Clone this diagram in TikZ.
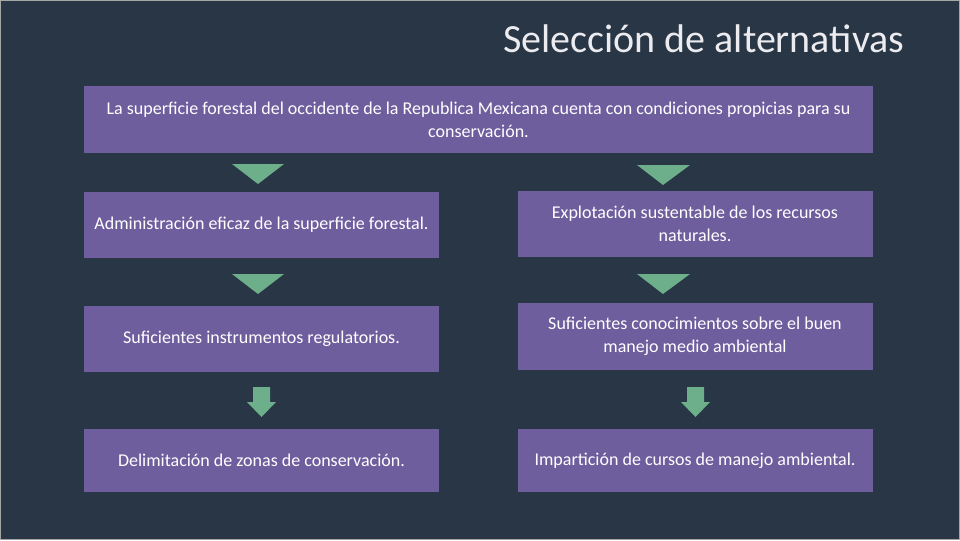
\documentclass[tikz,border=0pt]{standalone}
\usepackage{fontspec}
\setmainfont{Carlito}
\usetikzlibrary{positioning}

\definecolor{fondo}{HTML}{283645}
\definecolor{morado}{HTML}{6E5E9E}
\definecolor{verde}{HTML}{6DAF8A}
\definecolor{titulo}{HTML}{ECECF0}

\begin{document}
\begin{tikzpicture}[x=0.75pt,y=-0.75pt]
\tikzstyle{caja} = [rectangle, fill=morado, text=white, align=center, inner sep=2pt, font=\fontsize{13.5}{17}\selectfont]
\tikzstyle{cajachica} = [caja, minimum width=266.25pt, minimum height=50pt]
\tikzstyle{tri} = [fill=verde]

\fill[fondo] (0,0) rectangle (960,540);
\draw[gray!70, line width=0.75pt] (0.5,0.5) rectangle (959.5,539.5);

\node (titulo) [anchor=base east, text=titulo, font=\fontsize{30}{36}\selectfont] at (909,52) {Selección de alternativas};

\node (sup) [caja, minimum width=591.75pt, minimum height=50.25pt] at (478.5,119.5)
  {La superficie forestal del occidente de la Republica Mexicana cuenta con condiciones propicias para su\\conservación.};

\node (adm) [cajachica] at (261.5,225) {Administración eficaz de la superficie forestal.};
\node (exp) [cajachica] at (695,224) {Explotación sustentable de los recursos\\naturales.};
\node (ins) [cajachica] at (261.5,339) {Suficientes instrumentos regulatorios.};
\node (con) [cajachica] at (695,336.5) {Suficientes conocimientos sobre el buen\\manejo medio ambiental};
\node (del) [cajachica, minimum height=47.25pt] at (261.5,460.5) {Delimitación de zonas de conservación.};
\node (imp) [cajachica, minimum height=47.25pt] at (695,460.5) {Impartición de cursos de manejo ambiental.};

% triangulos
\fill[tri] (232,164) -- (284,164) -- (258,184) -- cycle;
\fill[tri] (637,165) -- (690,165) -- (663,185) -- cycle;
\fill[tri] (232,274) -- (284,274) -- (258,294) -- cycle;
\fill[tri] (637,274) -- (690,274) -- (663,294) -- cycle;

% flechas
\fill[tri] (253,387) -- (270,387) -- (270,402) -- (276,402) -- (261.5,417) -- (247,402) -- (253,402) -- cycle;
\fill[tri] (687,387) -- (704,387) -- (704,402) -- (710,402) -- (695.5,417) -- (681,402) -- (687,402) -- cycle;
\end{tikzpicture}
\end{document}
